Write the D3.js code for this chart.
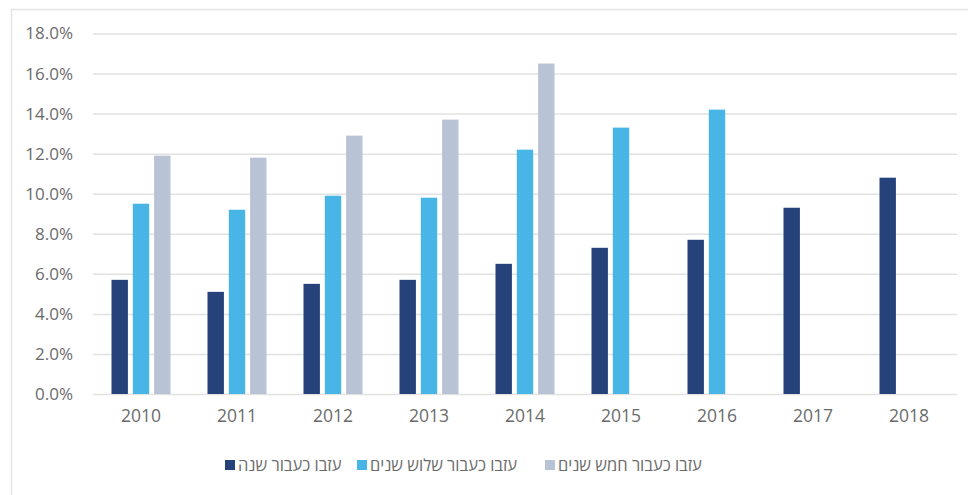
<!DOCTYPE html>
<html>
<head>
<meta charset="utf-8">
<script src="https://cdn.jsdelivr.net/npm/d3@7"></script>
<style>
    body { margin: 0; background: #fff; }
    svg text { font-family: "Open Sans", "Liberation Sans", "DejaVu Sans", sans-serif; fill: #6b6b6b; }
</style>
</head>
<body>
<svg id="chart" width="968" height="495"></svg>
<script>
// data (percent)
const years = ["2010", "2011", "2012", "2013", "2014", "2015", "2016", "2017", "2018"];
const seriesNames = ["עזבו כעבור שנה", "עזבו כעבור שלוש שנים", "עזבו כעבור חמש שנים"];
const leftAfterOneYear = [5.7, 5.1, 5.5, 5.7, 6.5, 7.3, 7.7, 9.3, 10.8];
const leftAfterThreeYears = [9.5, 9.2, 9.9, 9.8, 12.2, 13.3, 14.2, null, null];
const leftAfterFiveYears = [11.9, 11.8, 12.9, 13.7, 16.5, null, null, null, null];
const yTicks = [0, 2, 4, 6, 8, 10, 12, 14, 16, 18];
const colors = ["#25427a", "#47b5e6", "#b8c3d5"];

class GroupedBars {
    constructor(selector) {
        this.svg = d3.select(selector);
        // Settings
        this.left = 93;
        this.right = 957;
        this.top = 33.5;
        this.bottom = 394;
    }

    draw() {
        const series = [leftAfterOneYear, leftAfterThreeYears, leftAfterFiveYears];

        // frame round the chart, only top and left edges show
        this.svg.append("path")
            .attr("d", "M11.5,495 L11.5,9.5 L968,9.5")
            .attr("fill", "none")
            .attr("stroke", "#e4e4e4")
            .attr("stroke-width", 1.5);

        let y = d3.scaleLinear().domain([0, 18]).range([this.bottom, this.top]);
        let x = d3.scaleBand().domain(years).range([this.left, this.right]);
        let xInner = d3.scaleBand().domain(d3.range(3)).range([18.5, 77.5]).paddingInner(0.23);

        // y axis with gridlines
        let yAxis = d3.axisLeft(y)
            .tickValues(yTicks)
            .tickSize(-(this.right - this.left))
            .tickPadding(20)
            .tickFormat(d => d.toFixed(1) + "%");
        this.svg.append("g")
            .attr("transform", "translate(" + this.left + ",0)")
            .call(yAxis)
            .call(g => g.select(".domain").remove())
            .call(g => g.selectAll(".tick line").attr("stroke", "#e2e2e2").attr("stroke-width", 1.5))
            .call(g => g.selectAll(".tick text").attr("font-size", 17).attr("x", -20));

        // bars
        series.forEach((values, s) => {
            this.svg.append("g")
                .selectAll("rect")
                .data(values.map((v, i) => ({ year: years[i], value: v })).filter(d => d.value !== null))
                .join("rect")
                .attr("x", d => x(d.year) + xInner(s))
                .attr("y", d => y(d.value))
                .attr("width", xInner.bandwidth())
                .attr("height", d => y(0) - y(d.value))
                .attr("fill", colors[s]);
        });

        // x axis labels
        let xAxis = d3.axisBottom(x).tickSize(0).tickPadding(16);
        this.svg.append("g")
            .attr("transform", "translate(0," + this.bottom + ")")
            .call(xAxis)
            .call(g => g.select(".domain").remove())
            .call(g => g.selectAll(".tick text").attr("font-size", 17.5));

        // legend
        let legendX = [225, 357, 545];
        let legend = this.svg.append("g").attr("transform", "translate(0,465)");
        seriesNames.forEach((name, i) => {
            legend.append("rect")
                .attr("x", legendX[i])
                .attr("y", -5)
                .attr("width", 10)
                .attr("height", 10)
                .attr("fill", colors[i]);
            legend.append("text")
                .attr("x", legendX[i] + 13)
                .attr("dy", "0.35em")
                .attr("font-size", 16.5)
                .text(name);
        });
    }
}

new GroupedBars("#chart").draw();
</script>
</body>
</html>
